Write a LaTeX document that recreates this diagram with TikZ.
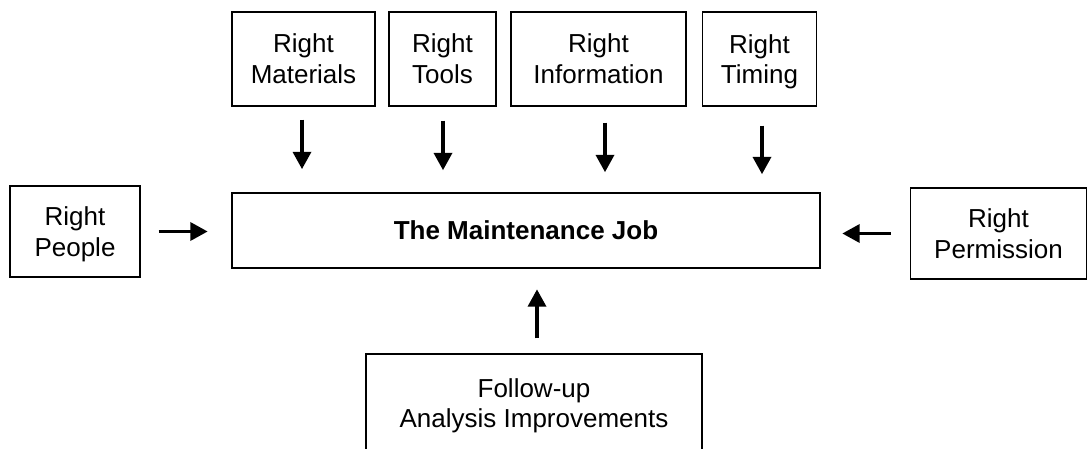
\documentclass[tikz,border=0pt]{standalone}
\usepackage{fontspec}
\setmainfont{Liberation Sans}
\usetikzlibrary{arrows.meta}

\begin{document}
\begin{tikzpicture}[x=0.75pt,y=-0.75pt,
  box/.style={draw,line width=1pt,align=center,minimum height=70.5pt,inner sep=0pt,font=\fontsize{19.5}{23}\selectfont},
  feed/.style={line width=2.6pt,-{Triangle[width=13.5pt,length=13pt]}}]
\useasboundingbox (0,0) rectangle (1088,449);

\node[box,minimum width=107.25pt] (mat) at (303.5,59) {Right\\Materials};
\node[box,minimum width=80.25pt] (tools) at (442.5,59) {Right\\Tools};
\node[box,minimum width=131.25pt] (info) at (598.5,59) {Right\\Information};
\node[box,minimum width=85.5pt] (timing) at (759.5,59) {Right\\\smash{Timing}};
\node[box,line width=2pt,minimum width=441pt,minimum height=56.25pt,
  font=\fontsize{19.5}{23}\selectfont\bfseries] (job) at (526,230.5) {The Maintenance Job};
\node[box,minimum width=97.5pt,minimum height=68.25pt] (people) at (75,231.5) {Right\\\smash{People}};
\node[box,minimum width=132pt,minimum height=68.25pt] (perm) at (998.5,233.5) {Right\\Permission};
\node[box,minimum width=252pt,minimum height=73.5pt] (follow) at (534,403) {Follow-up\\\smash{Analysis Improvements}};

\foreach \n/\dx/\a/\b in {mat/-1.5/9.75pt/16.9pt,tools/0.5/10.5pt/16.1pt,info/6.5/12pt/14.6pt,timing/2.5/14.25pt/13.1pt}
  \draw[feed,shorten <=\a,shorten >=\b] ([xshift=\dx*0.75pt]\n.south) -- ([xshift=\dx*0.75pt]\n.south |- job.north);
\draw[feed,shorten <=13.5pt,shorten >=17.25pt] (people.east) -- (people.east -| job.west);
\draw[feed,shorten <=14.25pt,shorten >=15.75pt] (perm.west) -- (perm.west -| job.east);
\draw[feed,shorten <=11.25pt,shorten >=15pt] ([xshift=2.25pt]follow.north) -- ([xshift=2.25pt]follow.north |- job.south);
\end{tikzpicture}
\end{document}
